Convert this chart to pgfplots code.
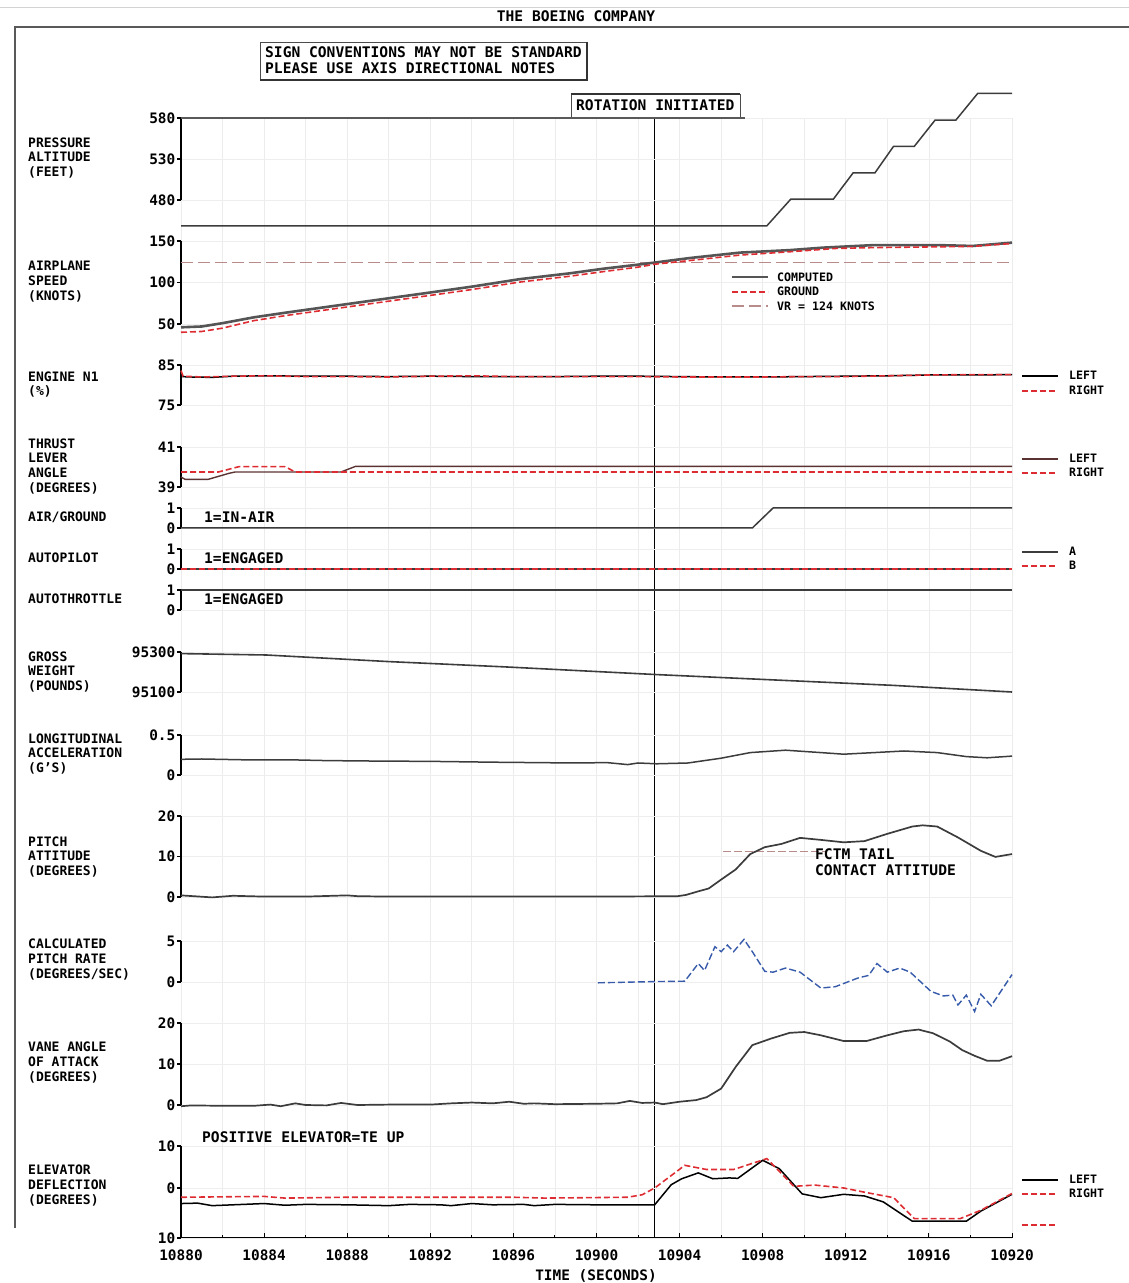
\documentclass[border=0pt]{standalone}
\usepackage{pgfplots}
\pgfplotsset{compat=1.18}
\usepackage{fontspec}
\setmainfont{DejaVu Sans Mono}
\definecolor{dred}{RGB}{222,45,50}
\definecolor{vrc}{RGB}{185,140,140}
\definecolor{blu}{RGB}{55,90,170}
\definecolor{dgray}{RGB}{60,60,60}
\definecolor{cgray}{RGB}{85,85,85}
\definecolor{tlal}{RGB}{90,50,50}
\newcommand{\fa}{\fontsize{13}{13}\selectfont\bfseries}
\newcommand{\fb}{\fontsize{14.6}{14.6}\selectfont\bfseries}
\newcommand{\fc}{\fontsize{11.6}{11.6}\selectfont\bfseries}
\newcommand{\ftick}{\fontsize{14.4}{14.4}\selectfont\bfseries}
\newcommand{\T}[3]{\node[anchor=base west,inner sep=0pt] at (#1,{1283-#2}) {#3};}
\newcommand{\LL}[3]{\draw[#3] (#1,{1283-#2}) -- ({#1+36},{1283-#2});}
\tikzset{redd/.style={dred, line width=1.6pt, dash pattern=on 6pt off 3pt}}
\pgfplotsset{
  pan/.style={scale only axis, width=831pt, anchor=south west,
    xmin=10880, xmax=10920, clip=false,
    axis x line=none, axis y line*=left,
    axis line style={-, line width=1.3pt},
    tick style={black, line width=1.1pt}, major tick length=4pt, tick align=outside,
    ymajorgrids, grid style={gray!13, line width=0.8pt},
    yticklabel style={font=\ftick, inner sep=1.5pt},
    scaled y ticks=false, scaled x ticks=false,
    /pgf/number format/assume math mode=true, no markers},
}
\begin{document}
\begin{tikzpicture}[x=1pt,y=1pt]
\useasboundingbox (0,0) rectangle (1129,1283);
% frame
\draw[gray!35, line width=1pt] (0,{1283-8}) -- (1129,{1283-8});
\draw[gray!70!black, line width=1.2pt] (15,{1283-1228}) -- (15,{1283-27}) -- (1129,{1283-27});
\node[anchor=base,inner sep=0pt] at (576,{1283-21.5}) {\fb THE BOEING COMPANY};
% sign box
\draw[gray!60!black, line width=0.8pt] (260,{1283-42}) rectangle (587,{1283-80});
\draw[gray!40!black, line width=1.6pt] (587,{1283-42}) -- (587,{1283-80}) -- (260,{1283-80});
\T{265}{57.5}{\fb SIGN CONVENTIONS MAY NOT BE STANDARD}
\T{265}{73.5}{\fb PLEASE USE AXIS DIRECTIONAL NOTES}
% rotation box
\draw[gray!60!black, line width=0.8pt] (571,{1283-117}) -- (571,{1283-94}) -- (740,{1283-94}) -- (740,{1283-117});
\draw[gray!40!black, line width=1.4pt] (571,{1283-94}) -- (740,{1283-94});
\T{576}{110.5}{\fb ROTATION INITIATED}

% background grid + time axis
\begin{axis}[scale only axis, width=831pt, height=1120pt, at={(181pt,45pt)}, anchor=south west,
  xmin=10880, xmax=10920, ymin=0, ymax=1120, clip=false,
  axis y line=none, axis x line*=bottom, axis line style={-, line width=1.3pt},
  xtick={10880,10884,10888,10892,10896,10900,10904,10908,10912,10916,10920},
  xticklabels={10880,10884,10888,10892,10896,10900,10904,10908,10912,10916,10920},
  minor xtick={10882,10886,10890,10894,10898,10902,10906,10910,10914,10918},
  xmajorgrids, xminorgrids, grid style={gray!15, line width=0.8pt},
  minor grid style={gray!15, line width=0.8pt},
  tick align=inside, major tick length=5pt, minor tick length=3pt,
  tick style={black, line width=1pt},
  xticklabel style={font=\ftick, yshift=-8pt},
  scaled x ticks=false, scaled y ticks=false,
  /pgf/number format/assume math mode=true, no markers]
\addplot[black, line width=1pt] coordinates {(10902.8,0) (10902.8,1121)};
\end{axis}

% 1 pressure altitude
\begin{axis}[pan, at={(181pt,1083pt)}, height=82pt, ymin=480, ymax=580,
  ytick={480,530,580}, yticklabels={480,530,580}]
\addplot[gray!70!black, line width=1.5pt] coordinates {(10880,580) (10907.15,580)};
\addplot[dgray, line width=1.5pt] coordinates {(10880,448.5) (10908.2,448.5) (10909.35,481) (10911.4,481) (10912.35,513) (10913.4,513) (10914.3,545.5) (10915.3,545.5) (10916.3,577.5) (10917.3,577.5) (10918.35,610) (10920,610)};
\end{axis}

% 2 airplane speed
\begin{axis}[pan, at={(181pt,959pt)}, height=83pt, ymin=50, ymax=150,
  ytick={50,100,150}, yticklabels={50,100,150}]
\addplot[vrc, line width=1.3pt, dash pattern=on 12pt off 5pt] coordinates {(10880,124) (10920,124)};
\addplot[cgray, line width=2.6pt] coordinates {(10880,46) (10881,47) (10882,51) (10883.5,58) (10885,63.5) (10886,67) (10888,74) (10890,81) (10892.3,89) (10894,95) (10896.3,104) (10898.7,111) (10900.3,116.5) (10902,121.5) (10902.8,124) (10904.5,129.5) (10906.9,136) (10909.3,139) (10910.9,142) (10913.3,145) (10916.5,145) (10918.1,144) (10920,148)};
\addplot[redd] coordinates {(10880,40) (10881,41) (10882,45) (10883.5,54) (10885,60) (10886,63.5) (10888,70.5) (10890,77.5) (10892.3,85.5) (10894,91.5) (10896.3,100.5) (10898.7,107.5) (10900.3,113) (10902,118.5) (10902.8,122) (10904.5,126.5) (10906.9,133) (10909.3,137) (10911.5,141) (10913.3,142) (10916.5,143) (10918.1,143.5) (10920,147)};
\end{axis}

% 3 engine N1
\begin{axis}[pan, at={(181pt,878pt)}, height=40pt, ymin=75, ymax=85,
  ytick={75,85}, yticklabels={75,85}]
\addplot[black, line width=1.5pt] coordinates {(10880,82.1) (10880.5,82.0) (10881.5,81.9) (10882.5,82.2) (10884,82.3) (10886,82.2) (10888,82.2) (10890,82.1) (10892,82.2) (10894,82.1) (10896,82.1) (10898,82.1) (10900,82.2) (10902,82.2) (10904,82.1) (10906,82.0) (10908,82.0) (10910,82.1) (10912,82.2) (10914,82.3) (10916,82.5) (10918,82.5) (10920,82.6)};
\addplot[redd] coordinates {(10880,83.6) (10880.1,82.2) (10881,82.0) (10882.5,82.2) (10884,82.3) (10886,82.1) (10888,82.1) (10890,82.0) (10892,82.2) (10894,82.3) (10896,82.1) (10898,82.1) (10900,82.1) (10902,82.1) (10904,82.0) (10906,82.0) (10908,82.0) (10910,82.1) (10912,82.1) (10914,82.3) (10916,82.5) (10918,82.6) (10920,82.6)};
\end{axis}

% 4 thrust lever angle
\begin{axis}[pan, at={(181pt,796pt)}, height=40pt, ymin=39, ymax=41,
  ytick={39,41}, yticklabels={39,41}]
\addplot[tlal, line width=1.4pt] coordinates {(10880,39.5) (10880.2,39.38) (10881.3,39.38) (10882.3,39.68) (10882.6,39.75) (10887.7,39.75) (10888.4,40.03) (10920,40.03)};
\addplot[redd] coordinates {(10880,39.75) (10881.8,39.75) (10882.8,40.02) (10885,40.02) (10885.5,39.75) (10920,39.75)};
\end{axis}

% 5 air/ground
\begin{axis}[pan, at={(181pt,755pt)}, height=20pt, ymin=0, ymax=1,
  ytick={0,1}, yticklabels={0,1}]
\addplot[dgray, line width=1.5pt] coordinates {(10880,0) (10907.5,0) (10908.5,1) (10920,1)};
\end{axis}

% 6 autopilot
\begin{axis}[pan, at={(181pt,714pt)}, height=20pt, ymin=0, ymax=1,
  ytick={0,1}, yticklabels={0,1}]
\addplot[dgray, line width=1.5pt] coordinates {(10880,0) (10920,0)};
\addplot[redd] coordinates {(10880,0) (10920,0)};
\end{axis}

% 7 autothrottle
\begin{axis}[pan, at={(181pt,673pt)}, height=20pt, ymin=0, ymax=1,
  ytick={0,1}, yticklabels={0,1}]
\addplot[dgray, line width=1.5pt] coordinates {(10880,1) (10920,1)};
\end{axis}

% 8 gross weight
\begin{axis}[pan, at={(181pt,591pt)}, height=40pt, ymin=95100, ymax=95300,
  ytick={95100,95300}, yticklabels={95100,95300}]
\addplot[dgray, line width=1.6pt] coordinates {(10880,95292) (10884.1,95285) (10890,95252) (10895.5,95226) (10902.9,95187) (10908.4,95161) (10914.3,95133) (10920,95100)};
\end{axis}

% 9 longitudinal acceleration
\begin{axis}[pan, at={(181pt,508pt)}, height=40pt, ymin=0, ymax=0.5,
  ytick={0,0.5}, yticklabels={0,0.5}]
\addplot[dgray, line width=1.5pt] coordinates {(10880,0.196) (10881,0.2) (10883,0.19) (10885.2,0.19) (10887,0.18) (10889,0.175) (10892.1,0.17) (10895,0.16) (10897,0.155) (10899,0.15) (10900.5,0.155) (10901.5,0.13) (10902,0.15) (10902.9,0.14) (10904.4,0.15) (10906,0.21) (10907.4,0.28) (10909.1,0.31) (10910.8,0.28) (10911.9,0.26) (10913,0.275) (10914.8,0.30) (10916.4,0.28) (10917.8,0.23) (10918.8,0.215) (10920,0.236)};
\end{axis}

% 10 pitch attitude
\begin{axis}[pan, at={(181pt,386pt)}, height=81pt, ymin=0, ymax=20,
  ytick={0,10,20}, yticklabels={0,10,20}]
\addplot[vrc, line width=1.3pt, dash pattern=on 8pt off 3pt] coordinates {(10906.1,11.2) (10911.1,11.2)};
\addplot[dgray, line width=1.7pt] coordinates {(10880,0.4) (10880.3,0.3) (10881.5,-0.1) (10882.5,0.3) (10884,0.1) (10886,0.1) (10888,0.4) (10888.5,0.2) (10890,0.1) (10895,0.1) (10900,0.1) (10903.9,0.2) (10904.3,0.5) (10904.9,1.4) (10905.4,2.1) (10906,4.3) (10906.7,6.8) (10907.4,10.6) (10908.1,12.3) (10908.9,13.1) (10909.8,14.6) (10910.8,14.1) (10911.9,13.5) (10912.9,13.8) (10914,15.6) (10915.2,17.4) (10915.7,17.7) (10916.4,17.4) (10917.4,14.7) (10918.5,11.4) (10919.2,9.9) (10920,10.6)};
\end{axis}

% 11 pitch rate
\begin{axis}[pan, at={(181pt,301pt)}, height=41pt, ymin=0, ymax=5,
  ytick={0,5}, yticklabels={0,5}]
\addplot[blu, line width=1.4pt, dash pattern=on 7pt off 3pt] coordinates {(10900.07,-0.1) (10902.8,0.05) (10904.25,0.1) (10904.9,2.25) (10905.2,1.4) (10905.7,4.3) (10906.0,3.7) (10906.3,4.5) (10906.6,3.7) (10907.1,5.2) (10907.5,3.7) (10908.1,1.3) (10908.5,1.2) (10909.1,1.7) (10909.8,1.2) (10910.8,-0.74) (10911.5,-0.57) (10912.6,0.5) (10913.1,0.8) (10913.5,2.25) (10914,1.2) (10914.6,1.7) (10915.1,1.2) (10916.1,-1.15) (10916.7,-1.7) (10917.15,-1.6) (10917.4,-2.8) (10917.8,-1.6) (10918.2,-3.6) (10918.5,-1.5) (10919,-2.9) (10919.5,-1.0) (10920,0.9)};
\end{axis}

% 12 vane angle of attack
\begin{axis}[pan, at={(181pt,178pt)}, height=82pt, ymin=0, ymax=20,
  ytick={0,10,20}, yticklabels={0,10,20}]
\addplot[dgray, line width=1.7pt] coordinates {(10880,-0.3) (10880.5,-0.1) (10882,-0.2) (10883.5,-0.2) (10884.3,0.1) (10884.8,-0.3) (10885.5,0.4) (10886,0) (10887,-0.1) (10887.7,0.5) (10888.5,0) (10890,0.1) (10892,0.1) (10893,0.4) (10894,0.6) (10895,0.4) (10895.8,0.8) (10896.5,0.3) (10897,0.4) (10898,0.2) (10900,0.3) (10901,0.4) (10901.6,1.0) (10902.2,0.5) (10902.8,0.6) (10903.2,0.2) (10904,0.8) (10904.8,1.2) (10905.3,1.9) (10906,4.0) (10906.7,9.3) (10907.5,14.6) (10908.4,16.2) (10909.3,17.6) (10910,17.8) (10910.8,17.0) (10911.9,15.6) (10913,15.6) (10914,17.0) (10914.8,18.0) (10915.5,18.4) (10916.2,17.5) (10917,15.5) (10917.6,13.4) (10918.2,12.0) (10918.8,10.8) (10919.4,10.8) (10920,11.9)};
\end{axis}

% 13 elevator deflection
\begin{axis}[pan, at={(181pt,45pt)}, height=92pt, ymin=-11.9, ymax=10,
  ytick={-11.9,0,10}, yticklabels={10,0,10}]
\addplot[black, line width=1.5pt] coordinates {(10880,-3.7) (10880.8,-3.6) (10881.5,-4.2) (10882.5,-4.0) (10884,-3.7) (10885,-4.1) (10886,-3.9) (10888,-4.0) (10890,-4.2) (10891,-3.9) (10892.5,-4.0) (10893,-4.2) (10894,-3.7) (10895,-4.0) (10896.5,-3.9) (10897,-4.2) (10898,-3.9) (10900,-4.0) (10902.8,-4.0) (10903.6,0.8) (10904.1,2.2) (10904.9,3.6) (10905.6,2.2) (10906.4,2.4) (10906.8,2.3) (10908,6.6) (10908.8,4.6) (10909.9,-1.4) (10910.8,-2.3) (10911.9,-1.5) (10912.9,-1.9) (10913.8,-3.3) (10915.2,-7.9) (10917.8,-7.9) (10918.5,-5.5) (10920,-1.5)};
\addplot[redd] coordinates {(10880,-2.2) (10884,-2.0) (10885,-2.4) (10888,-2.2) (10896,-2.2) (10897.5,-2.4) (10901.5,-2.2) (10902.2,-1.6) (10902.8,0) (10904.25,5.4) (10905.3,4.4) (10906.6,4.4) (10908.2,7.0) (10909.5,0.4) (10910.5,0.7) (10911.9,0) (10912.9,-1.0) (10914.3,-2.3) (10915.3,-7.3) (10917.5,-7.3) (10918.5,-5.3) (10920,-1.3)};
\end{axis}

% panel labels
\T{28}{148}{\fa PRESSURE}\T{28}{162}{\fa ALTITUDE}\T{28}{177}{\fa (FEET)}
\T{28}{271}{\fa AIRPLANE}\T{28}{286}{\fa SPEED}\T{28}{301}{\fa (KNOTS)}
\T{28}{382}{\fa ENGINE N1}\T{28}{396}{\fa (\%)}
\T{28}{449}{\fa THRUST}\T{28}{463}{\fa LEVER}\T{28}{478}{\fa ANGLE}\T{28}{493}{\fa (DEGREES)}
\T{28}{522}{\fa AIR/GROUND}
\T{28}{563}{\fa AUTOPILOT}
\T{28}{604}{\fa AUTOTHROTTLE}
\T{28}{662}{\fa GROSS}\T{28}{676}{\fa WEIGHT}\T{28}{691}{\fa (POUNDS)}
\T{28}{744}{\fa LONGITUDINAL}\T{28}{758}{\fa ACCELERATION}\T{28}{773}{\fa (G'S)}
\T{28}{847}{\fa PITCH}\T{28}{861}{\fa ATTITUDE}\T{28}{876}{\fa (DEGREES)}
\T{28}{949}{\fa CALCULATED}\T{28}{964}{\fa PITCH RATE}\T{28}{979}{\fa (DEGREES/SEC)}
\T{28}{1052}{\fa VANE ANGLE}\T{28}{1067}{\fa OF ATTACK}\T{28}{1082}{\fa (DEGREES)}
\T{28}{1175}{\fa ELEVATOR}\T{28}{1190}{\fa DEFLECTION}\T{28}{1205}{\fa (DEGREES)}
% annotations
\T{204}{522.5}{\fb 1=IN-AIR}
\T{204}{563.5}{\fb 1=ENGAGED}
\T{204}{604.5}{\fb 1=ENGAGED}
\T{815}{860}{\fb FCTM TAIL}
\T{815}{876}{\fb CONTACT ATTITUDE}
\T{202}{1143}{\fb POSITIVE ELEVATOR=TE UP}
\node[anchor=base,inner sep=0pt] at (596,{1283-1281}) {\ftick TIME (SECONDS)};
% legends
\LL{732}{277}{cgray, line width=2.6pt}\T{777}{281.5}{\fc COMPUTED}
\LL{732}{292}{redd}\T{777}{296}{\fc GROUND}
\LL{732}{306}{vrc, line width=1.3pt, dash pattern=on 12pt off 5pt}\T{777}{310.5}{\fc VR = 124 KNOTS}
\LL{1022}{376}{black, line width=1.5pt}\T{1069}{380}{\fc LEFT}
\LL{1022}{391}{redd}\T{1069}{395}{\fc RIGHT}
\LL{1022}{459}{tlal, line width=1.4pt}\T{1069}{463}{\fc LEFT}
\LL{1022}{473}{redd}\T{1069}{477}{\fc RIGHT}
\LL{1022}{552}{dgray, line width=1.5pt}\T{1069}{556}{\fc A}
\LL{1022}{566}{redd}\T{1069}{570}{\fc B}
\LL{1022}{1180}{black, line width=1.5pt}\T{1069}{1184}{\fc LEFT}
\LL{1022}{1194}{redd}\T{1069}{1198}{\fc RIGHT}
\LL{1022}{1225}{redd}
\end{tikzpicture}
\end{document}
